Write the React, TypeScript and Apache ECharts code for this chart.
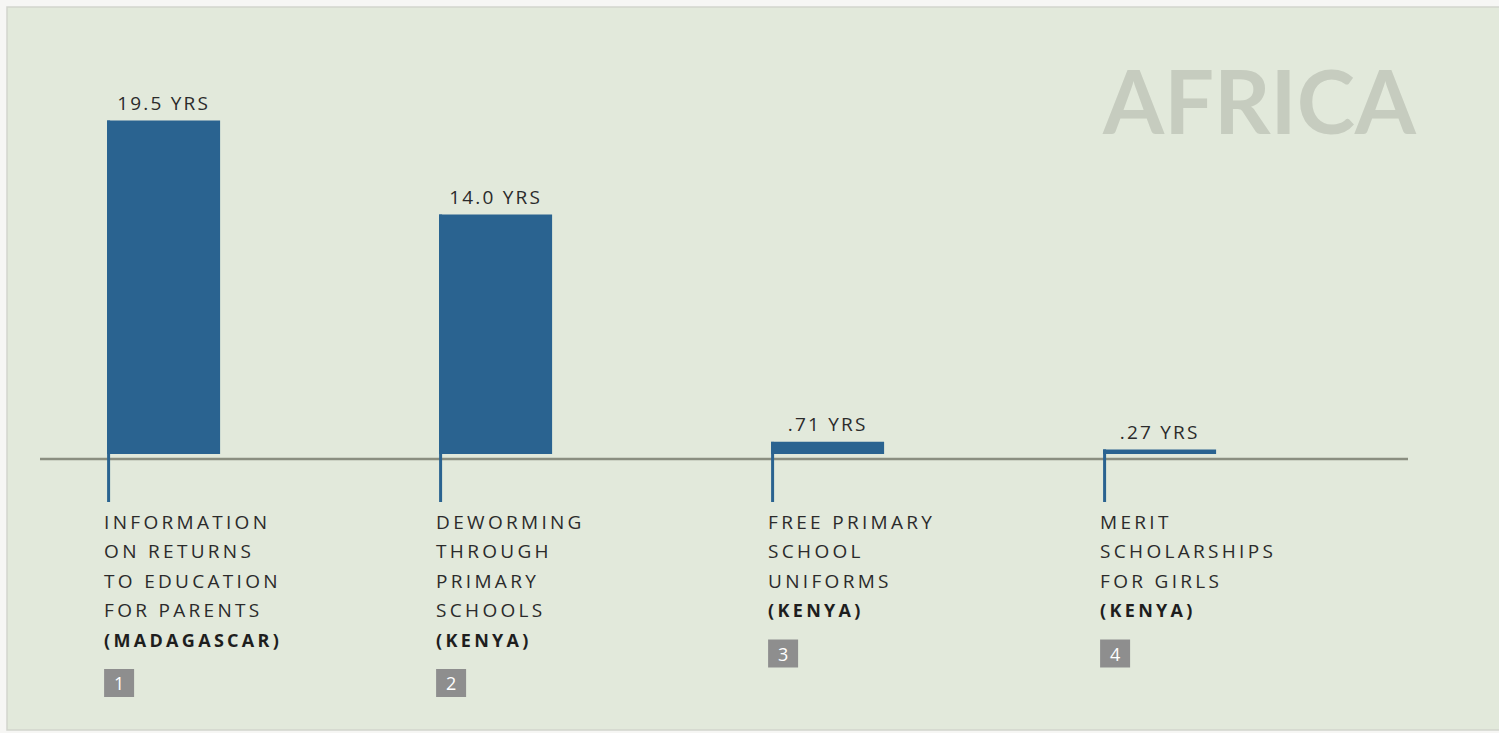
import React, { useEffect, useRef } from 'react';
import * as echarts from 'echarts';

const categories = [
  ['INFORMATION', 'ON RETURNS', 'TO EDUCATION', 'FOR PARENTS'],
  ['DEWORMING', 'THROUGH', 'PRIMARY', 'SCHOOLS'],
  ['FREE PRIMARY', 'SCHOOL', 'UNIFORMS'],
  ['MERIT', 'SCHOLARSHIPS', 'FOR GIRLS'],
];
const countries = ['MADAGASCAR', 'KENYA', 'KENYA', 'KENYA'];
const values = [19.5, 14.0, 0.71, 0.27];
const valueLabels = ['19.5 YRS', '14.0 YRS', '.71 YRS', '.27 YRS'];
const ranks = ['1', '2', '3', '4'];
const regionTitle = 'AFRICA';

const BAR_COLOR = '#2a6390';
const TEXT_COLOR = '#2b2b2b';
const FONT = '"Open Sans", "DejaVu Sans", sans-serif';
const BAR_W = 113;
const LINE_H = 29.5;

export default function App() {
  const ref = useRef<HTMLDivElement>(null);
  useEffect(() => {
    if (!ref.current) return;
    const chart = echarts.init(ref.current, undefined, { renderer: 'svg' });
    const catTexts = new Set<string>();
    categories.forEach((c) => c.forEach((l) => catTexts.add(l)));
    countries.forEach((c) => catTexts.add(`(${c})`));
    const valTexts = new Set<string>(valueLabels);
    const applySpacing = () => {
      const root = ref.current;
      if (!root) return;
      root.querySelectorAll('text').forEach((t) => {
        const s = (t.textContent || '').trim();
        if (catTexts.has(s)) t.setAttribute('letter-spacing', '3.3');
        else if (valTexts.has(s)) t.setAttribute('letter-spacing', '2.2');
      });
    };
    const option: any = {
      animation: false,
      backgroundColor: '#f6f6f4',
      grid: { left: 163.6, right: 339.4, top: 112, bottom: 279, containLabel: false },
      xAxis: {
        type: 'category',
        data: categories.map((c) => c.join(' ')),
        boundaryGap: false,
        show: false,
      },
      yAxis: { type: 'value', min: 0, max: 20, show: false },
      graphic: [
        {
          type: 'rect',
          z: -10,
          silent: true,
          shape: { x: 7, y: 7, width: 1494, height: 723 },
          style: { fill: '#e2e9db', stroke: '#d2d5cd', lineWidth: 1.5 },
        },
        {
          type: 'line',
          z: -5,
          silent: true,
          shape: { x1: 40, y1: 459, x2: 1408, y2: 459 },
          style: { stroke: '#8a8e80', lineWidth: 2.5 },
        },
        {
          type: 'text',
          z: -5,
          silent: true,
          x: 1416,
          y: 100,
          style: {
            text: regionTitle,
            align: 'right',
            verticalAlign: 'middle',
            fontFamily: 'Lato, sans-serif',
            fontWeight: 'bold',
            fontSize: 88,
            fill: '#c6ccbf',
          },
        },
      ],
      series: [
        {
          type: 'bar',
          data: values,
          barWidth: BAR_W,
          silent: true,
          itemStyle: { color: BAR_COLOR },
          label: {
            show: true,
            position: 'top',
            distance: 8,
            formatter: (p: any) => valueLabels[p.dataIndex],
            fontFamily: FONT,
            fontSize: 19,
            color: TEXT_COLOR,
          },
        },
        {
          type: 'custom',
          silent: true,
          data: values.map((v, i) => [i, v]),
          renderItem: (params: any, api: any) => {
            const i = api.value(0);
            const top = api.coord([i, api.value(1)]);
            const base = api.coord([i, 0]);
            const left = top[0] - BAR_W / 2;
            const lines = categories[i];
            const total = lines.length + 1;
            const textTop = base[1] + 53;
            const boxTop = textTop + total * LINE_H + 14.5;
            const text =
              lines.map((l) => `{n|${l}}`).join('\n') + `\n{b|(${countries[i]})}`;
            return {
              type: 'group',
              children: [
                {
                  type: 'line',
                  shape: { x1: left + 1.5, y1: top[1], x2: left + 1.5, y2: base[1] + 48 },
                  style: { stroke: BAR_COLOR, lineWidth: 3 },
                },
                {
                  type: 'text',
                  x: left - 3,
                  y: textTop,
                  style: {
                    text,
                    align: 'left',
                    verticalAlign: 'top',
                    fill: TEXT_COLOR,
                    fontFamily: FONT,
                    fontSize: 19,
                    lineHeight: LINE_H,
                    rich: {
                      n: { fontFamily: FONT, fontSize: 19, lineHeight: LINE_H, fill: TEXT_COLOR },
                      b: { fontFamily: FONT, fontSize: 18, fontWeight: 'bold', lineHeight: LINE_H, fill: '#1e1e1e' },
                    },
                  },
                },
                {
                  type: 'rect',
                  shape: { x: left - 3, y: boxTop, width: 30, height: 28 },
                  style: { fill: '#8e8e8e' },
                },
                {
                  type: 'text',
                  x: left - 3 + 15,
                  y: boxTop + 14,
                  style: {
                    text: ranks[i],
                    align: 'center',
                    verticalAlign: 'middle',
                    fill: '#ffffff',
                    fontFamily: FONT,
                    fontSize: 18,
                  },
                },
              ],
            };
          },
        },
      ],
    };
    chart.on('finished', applySpacing);
    chart.setOption(option);
    applySpacing();
    return () => chart.dispose();
  }, []);
  return (
    <div
      ref={ref}
      style={{ position: 'absolute', left: 0, top: 0, width: 1499, height: 733 }}
    />
  );
}
